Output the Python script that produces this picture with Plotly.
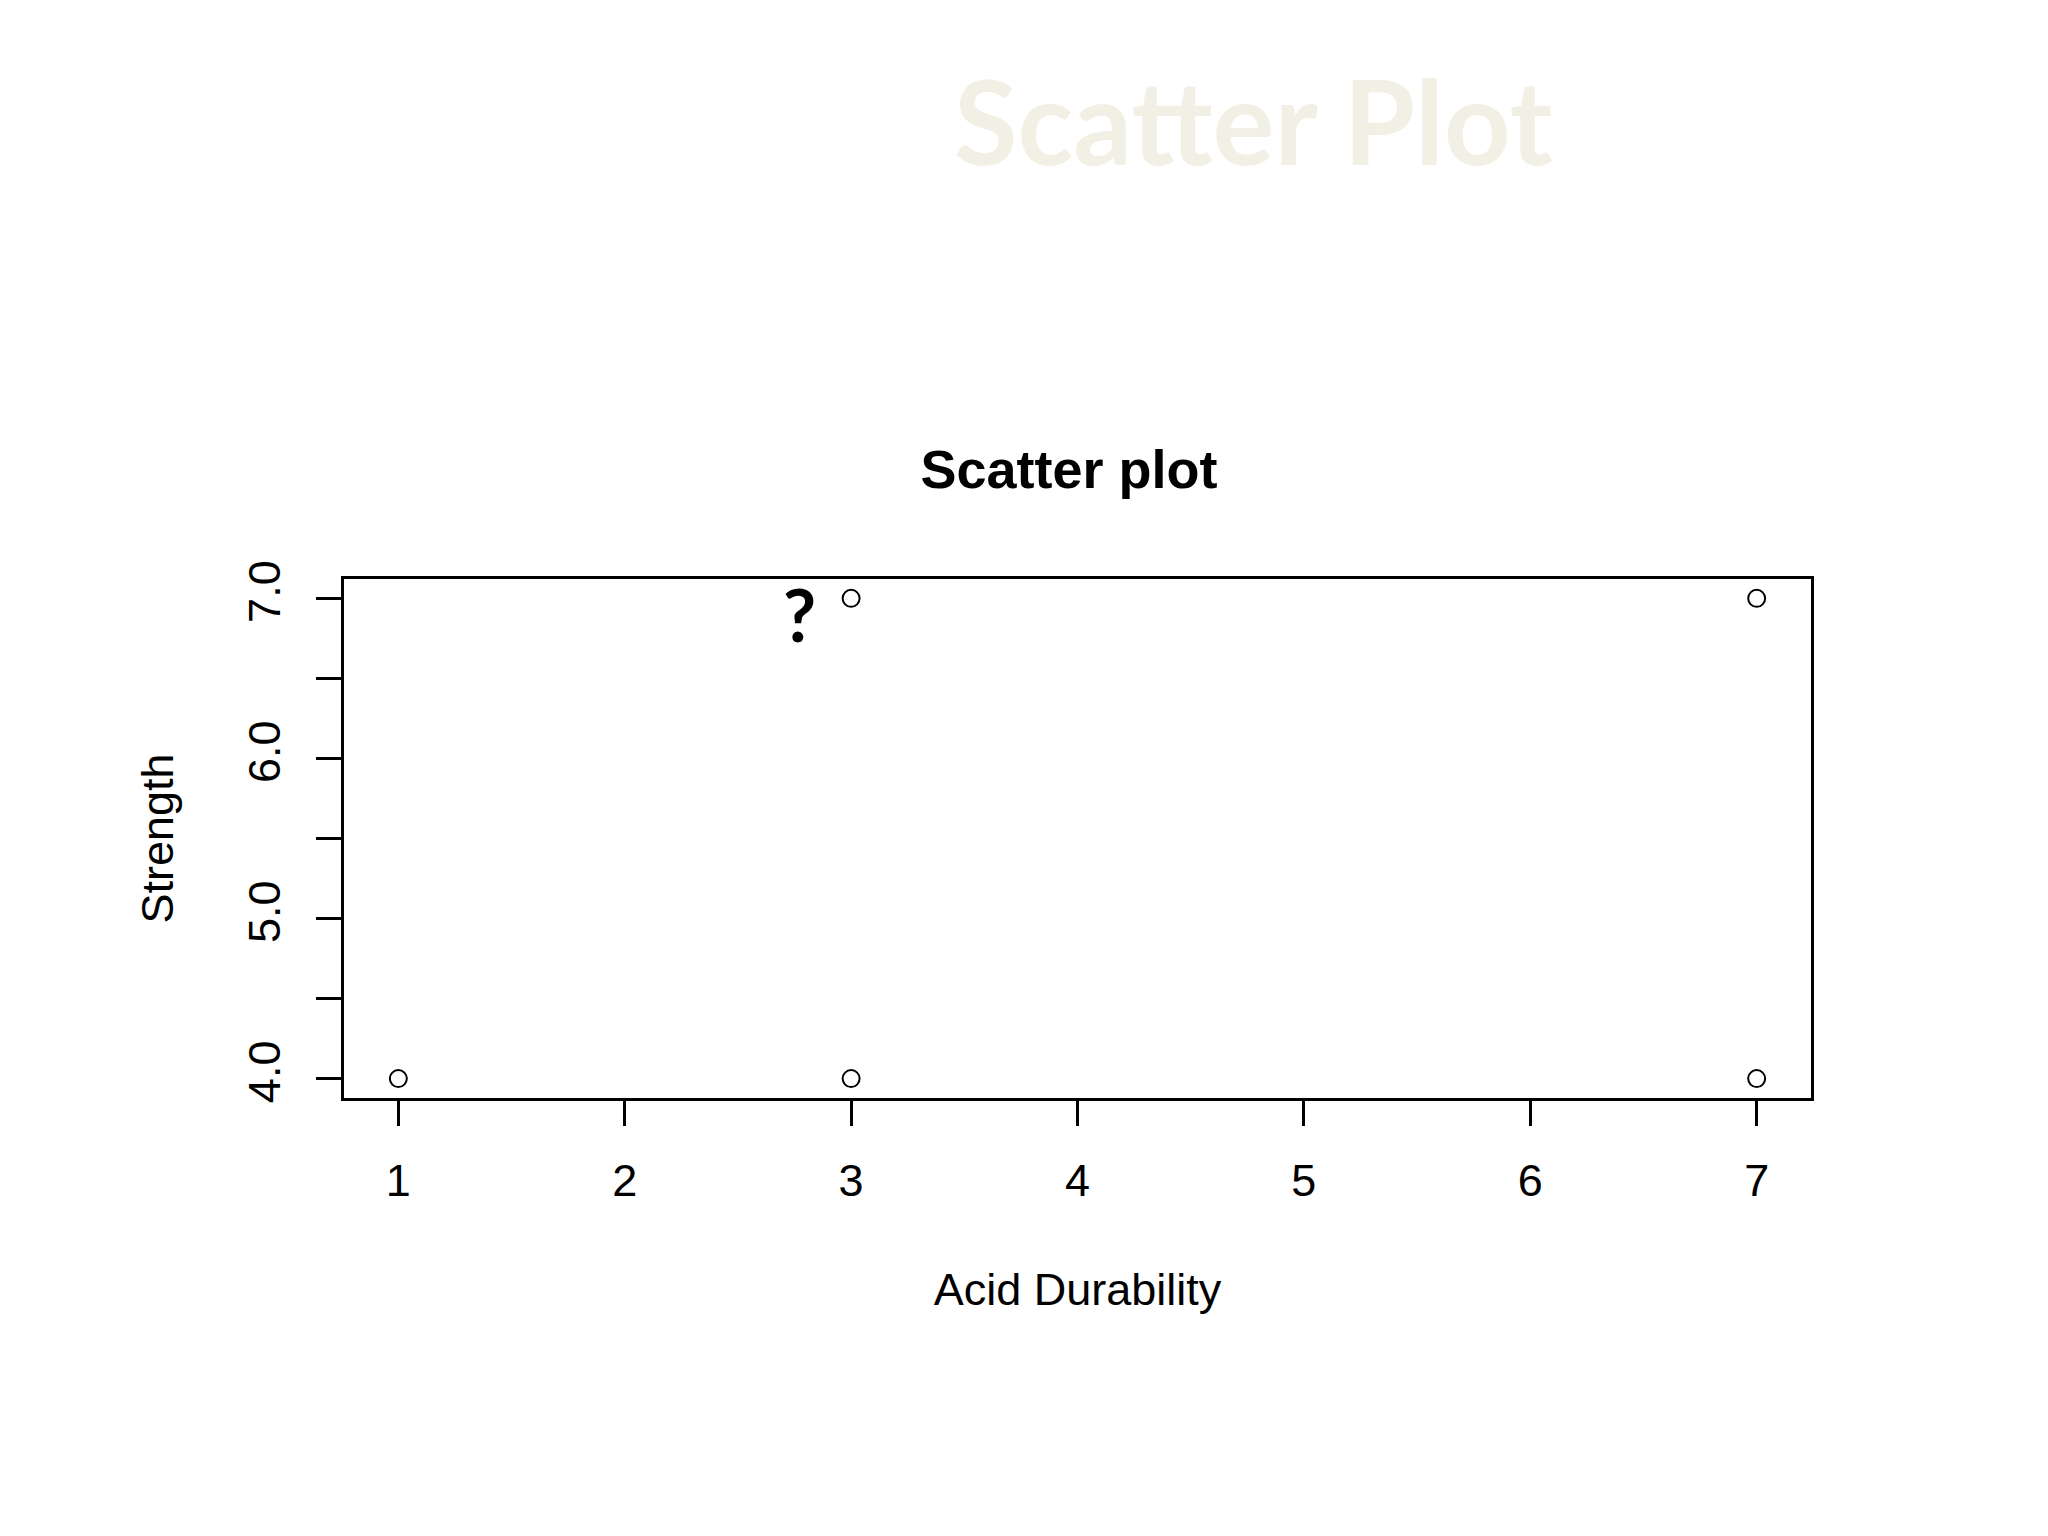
import plotly.graph_objects as go

# Data
acid_durability = [1, 3, 3, 7, 7]
strength = [4, 4, 7, 7, 4]

x_tick_vals = [1, 2, 3, 4, 5, 6, 7]
x_tick_text = ["1", "2", "3", "4", "5", "6", "7"]
y_tick_vals = [4.0, 4.5, 5.0, 5.5, 6.0, 6.5, 7.0]
y_tick_text = ["4.0", "", "5.0", "", "6.0", "", "7.0"]

# figure fits inside the page body (8px default margin)
W, H = 2032, 1520
OFF = 8


def px(xr):
    return (xr - OFF) / W


def py(yr):
    return 1 - (yr - OFF) / H


fig = go.Figure()
fig.add_trace(go.Scatter(
    x=acid_durability, y=strength, mode="markers",
    marker=dict(symbol="circle-open", size=17, color="black",
                line=dict(width=2, color="black")),
    showlegend=False, hoverinfo="x+y",
))

axis_font = dict(family="Liberation Sans, Arial, sans-serif", size=45, color="black")

fig.update_layout(
    width=W, height=H,
    margin=dict(l=0, r=0, t=0, b=0),
    paper_bgcolor="white", plot_bgcolor="white",
    title=dict(text="<b>Scatter plot</b>", x=px(1069), xanchor="center",
               y=1 - 449 / H, yanchor="middle", yref="paper",
               font=dict(family="Liberation Sans, Arial, sans-serif", size=54, color="black")),
    xaxis=dict(domain=[px(344), px(1811)], range=[0.76, 7.24],
               tickvals=x_tick_vals, ticktext=x_tick_text,
               showline=True, mirror=True, linecolor="black", linewidth=3,
               ticks="outside", ticklen=25, tickwidth=3, tickcolor="black",
               ticklabelstandoff=16,
               showgrid=False, zeroline=False, tickfont=axis_font,
               title=dict(text="Acid Durability", font=axis_font, standoff=69)),
    yaxis=dict(domain=[py(1096), py(569)], range=[3.88, 7.12],
               tickvals=y_tick_vals, ticktext=y_tick_text, tickangle=-90,
               showline=True, mirror=True, linecolor="black", linewidth=3,
               ticks="outside", ticklen=25, tickwidth=3, tickcolor="black",
               ticklabelstandoff=18,
               showgrid=False, zeroline=False, tickfont=axis_font,
               title=dict(text="Strength", font=axis_font, standoff=52)),
    annotations=[
        dict(text="<b>Scatter Plot</b>", xref="paper", yref="paper",
             x=1245 / W, y=1 - 95 / H, xanchor="center", yanchor="middle",
             showarrow=False,
             font=dict(family="Lato, sans-serif", size=116, color="#F2F0E4")),
        dict(text="<b>?</b>", xref="x", yref="y", x=2.773, y=6.9,
             xanchor="center", yanchor="middle", showarrow=False,
             font=dict(family="Lato, sans-serif", size=72, color="black")),
    ],
)

fig.write_html("out.html")
